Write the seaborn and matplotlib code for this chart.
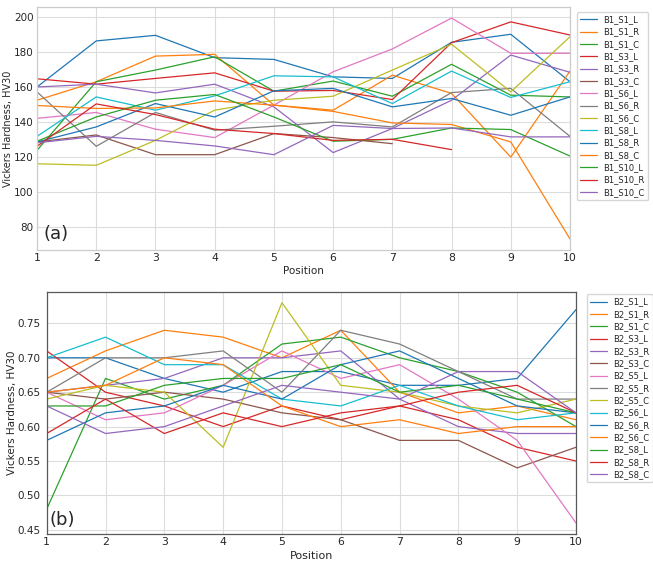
import numpy as np
import pandas as pd
import matplotlib
matplotlib.use("Agg")
import matplotlib.pyplot as plt
import seaborn as sns

positions = list(range(1, 11))
nan = np.nan

# Batch 1 (panel a), HV30
b1_labels = ["B1_S1_L", "B1_S1_R", "B1_S1_C", "B1_S3_L", "B1_S3_R", "B1_S3_C",
             "B1_S6_L", "B1_S6_R", "B1_S6_C", "B1_S8_L", "B1_S8_R", "B1_S8_C",
             "B1_S10_L", "B1_S10_R", "B1_S10_C"]
b1_s1_l = [160, 186.4, 189.6, 176.8, 175.8, 165.8, 164.9, 185.6, 190.2, 163]
b1_s1_r = [152.4, 163, 177.7, 178.7, 149.6, 146.7, 166.8, 156.3, 119.8, 169.1]
b1_s1_c = [123.7, 163, 169.7, 177.3, 157.6, 163.4, 154.7, 173, 155.3, 154.3]
b1_s3_l = [164.7, 161.6, 164.9, 168.1, 157.6, 158, 152.8, 185.4, 197.3, 189.8]
b1_s3_r = [160, 161.6, 156.6, 161.6, 148.6, 122.4, 136.2, 152.4, 178.3, 168.4]
b1_s3_c = [128.5, 132.5, 121.2, 121.2, 133.3, 131, 127.5, nan, nan, nan]
b1_s6_l = [142, 145.4, 135.8, 131, 149.6, 168.7, 181.8, 199.5, 179.3, 179.3]
b1_s6_r = [157.2, 126, 145.4, 135.2, 137.5, 140, 137.1, 156.8, 159.2, 131.7]
b1_s6_c = [116, 115.1, 129.4, 146.7, 152.4, 154.7, 169.7, 184.5, 157.2, 188.8]
b1_s8_l = [131.7, 154.3, 146.7, 154.9, 166.4, 165.8, 150.5, 169.1, 154, 163]
b1_s8_r = [128.5, 137.1, 150.5, 142.8, 157.8, 159.2, 148.6, 153.4, 143.8, 154.3]
b1_s8_c = [149.4, 147.7, 148, 152, 149.6, 146, 139.4, 138.5, 128.5, 72.9]
b1_s10_l = [128.9, 142.8, 152.4, 155.7, 142.8, 128.9, 130, 136.5, 135.6, 120.4]
b1_s10_r = [126, 150.3, 144.2, 135.8, 133.3, 129.4, 130, 124.1, nan, nan]
b1_s10_c = [128, 131.7, 129.4, 126.2, 121.2, 138, 136.2, 136.5, 131.4, 131.4]

# Batch 2 (panel b)
b2_labels = ["B2_S1_L", "B2_S1_R", "B2_S1_C", "B2_S3_L", "B2_S3_R", "B2_S3_C",
             "B2_S5_L", "B2_S5_R", "B2_S5_C", "B2_S6_L", "B2_S6_R", "B2_S6_C",
             "B2_S8_L", "B2_S8_R", "B2_S8_C"]
b2_s1_l = [0.70, 0.70, 0.67, 0.65, 0.68, 0.68, 0.66, 0.66, 0.67, 0.77]
b2_s1_r = [0.67, 0.71, 0.74, 0.73, 0.70, 0.74, 0.65, 0.62, 0.63, 0.61]
b2_s1_c = [0.48, 0.67, 0.64, 0.66, 0.72, 0.73, 0.70, 0.68, 0.65, 0.60]
b2_s3_l = [0.71, 0.65, 0.63, 0.60, 0.63, 0.61, 0.63, 0.61, 0.57, 0.55]
b2_s3_r = [0.65, 0.66, 0.67, 0.70, 0.70, 0.71, 0.64, 0.60, 0.59, 0.59]
b2_s3_c = [0.65, 0.64, 0.65, 0.64, 0.62, 0.61, 0.58, 0.58, 0.54, 0.57]
b2_s5_l = [0.65, 0.61, 0.62, 0.66, 0.71, 0.67, 0.69, 0.64, 0.58, 0.46]
b2_s5_r = [0.65, 0.70, 0.70, 0.71, 0.65, 0.74, 0.72, 0.68, 0.64, 0.64]
b2_s5_c = [0.64, 0.66, 0.65, 0.57, 0.78, 0.66, 0.65, 0.63, 0.62, 0.64]
b2_s6_l = [0.70, 0.73, 0.69, 0.69, 0.64, 0.63, 0.66, 0.63, 0.61, 0.62]
b2_s6_r = [0.58, 0.62, 0.63, 0.66, 0.64, 0.69, 0.71, 0.67, 0.63, 0.62]
b2_s6_c = [0.65, 0.66, 0.70, 0.69, 0.63, 0.60, 0.61, 0.59, 0.60, 0.60]
b2_s8_l = [0.63, 0.63, 0.66, 0.67, 0.67, 0.69, 0.65, 0.66, 0.64, 0.62]
b2_s8_r = [0.59, 0.64, 0.59, 0.62, 0.60, 0.62, 0.63, 0.65, 0.66, 0.62]
b2_s8_c = [0.63, 0.59, 0.60, 0.63, 0.66, 0.65, 0.64, 0.68, 0.68, 0.62]

b1_series = [b1_s1_l, b1_s1_r, b1_s1_c, b1_s3_l, b1_s3_r, b1_s3_c, b1_s6_l, b1_s6_r,
             b1_s6_c, b1_s8_l, b1_s8_r, b1_s8_c, b1_s10_l, b1_s10_r, b1_s10_c]
b2_series = [b2_s1_l, b2_s1_r, b2_s1_c, b2_s3_l, b2_s3_r, b2_s3_c, b2_s5_l, b2_s5_r,
             b2_s5_c, b2_s6_l, b2_s6_r, b2_s6_c, b2_s8_l, b2_s8_r, b2_s8_c]


def to_long(labels, series):
    rows = []
    for name, vals in zip(labels, series):
        for p, v in zip(positions, vals):
            rows.append({"Position": p, "HV30": v, "Sample": name})
    return pd.DataFrame(rows).dropna()


sns.set_theme(style="whitegrid")
plt.rcParams["font.family"] = ["DejaVu Sans"]

tab = sns.color_palette("tab10")
pal = [tab[i % 10] for i in range(15)]

fig = plt.figure(figsize=(6.53, 5.70), dpi=100)
ax1 = fig.add_axes([0.0567, 0.5614, 0.8162, 0.4263])
ax2 = fig.add_axes([0.0715, 0.0632, 0.8106, 0.4250])

# ax, labels, data, tag, tag pos, label size, tick size, y tick pad, ylabel x, xlabel pad,
# spine colour, legend anchor
panels = [(ax1, b1_labels, b1_series, "(a)", 0.012, 0.03, 7, 7.5, 2.5, -0.045, 2,
           "0.8", 1.013, 0.98),
          (ax2, b2_labels, b2_series, "(b)", 0.005, 0.022, 7.5, 7.5, 4.5, -0.057, 3,
           "0.35", 1.02, 0.99)]

for ax, labels, series, tag, tx, ty, fs, ts, tp, ylx, xlp, spc, lx, ly in panels:
    df = to_long(labels, series)
    sns.lineplot(data=df, x="Position", y="HV30", hue="Sample", hue_order=labels,
                 palette=pal, linewidth=0.9, ax=ax)
    ax.set_xlim(1, 10)
    ax.set_xticks(positions)
    ax.set_xlabel("Position", fontsize=fs + 0.5, labelpad=xlp)
    ax.set_ylabel("Vickers Hardness, HV30", fontsize=fs)
    ax.yaxis.set_label_coords(ylx, 0.5)
    ax.tick_params(axis="x", labelsize=ts + 0.3, pad=2, length=0, colors="0.15")
    ax.tick_params(axis="y", labelsize=ts, pad=tp, length=0, colors="0.15")
    ax.grid(color="#dcdcdc", linewidth=0.8)
    for s in ax.spines.values():
        s.set_color(spc)
        s.set_linewidth(0.9)
    ax.text(tx, ty, tag, transform=ax.transAxes, fontsize=13, ha="left", va="bottom")
    sns.move_legend(ax, "upper left", bbox_to_anchor=(lx, ly), borderaxespad=0,
                    title=None, fontsize=6, frameon=True, labelspacing=0.4)

fig.savefig("out.png", dpi=100)
